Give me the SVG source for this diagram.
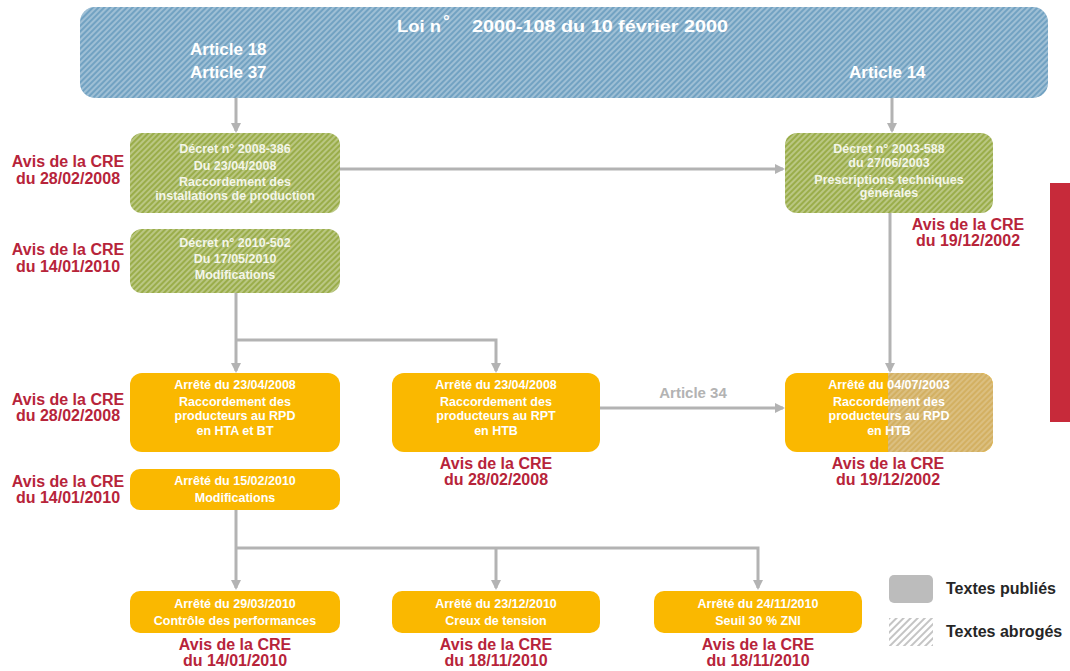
<svg xmlns="http://www.w3.org/2000/svg" width="1070" height="671" viewBox="0 0 1070 671">
<defs>
<pattern id="hw" width="4" height="4" patternUnits="userSpaceOnUse" patternTransform="rotate(45)"><line x1="1" y1="0" x2="1" y2="4" stroke="#ffffff" stroke-opacity="0.45" stroke-width="1.4"/></pattern>
<pattern id="hg" width="5" height="5" patternUnits="userSpaceOnUse" patternTransform="rotate(45)"><line x1="1" y1="0" x2="1" y2="5" stroke="#b5b5b5" stroke-width="1.6"/></pattern>
<marker id="ar" markerWidth="10" markerHeight="10" refX="8" refY="5" orient="auto" markerUnits="userSpaceOnUse"><path d="M0,0 L10,5 L0,10 z" fill="#b3b3b3"/></marker>
</defs>
<style>
.bt{font-family:"Liberation Sans",Arial,sans-serif;font-weight:bold;fill:#fff;font-size:12.5px;text-anchor:middle}
.gt{font-family:"Liberation Sans",Arial,sans-serif;font-weight:bold;fill:#f4f6ea;font-size:12.5px;text-anchor:middle}
.av{font-family:"Liberation Sans",Arial,sans-serif;font-weight:bold;fill:#b7243a;font-size:16px;text-anchor:middle}
.art{font-family:"Liberation Sans",Arial,sans-serif;font-weight:bold;fill:#fff;font-size:17px}
.ob{fill:#fab800}
.gb{fill:#9aad4a}
.cn{fill:none;stroke:#b3b3b3;stroke-width:3}
.lg{font-family:"Liberation Sans",Arial,sans-serif;font-weight:bold;fill:#262626;font-size:16px}
</style>
<rect x="0" y="0" width="1070" height="671" fill="#fff"/>

<g id="loi">
<rect x="80" y="7" width="968" height="91" rx="15" fill="#72a2c2"/>
<rect x="80" y="7" width="968" height="91" rx="15" fill="url(#hw)"/>
<text x="397" y="32" class="art" font-size="19" textLength="44" lengthAdjust="spacingAndGlyphs">Loi n</text>
<text x="443" y="27" class="art" font-size="13">°</text>
<text x="472" y="32" class="art" font-size="19" textLength="256" lengthAdjust="spacingAndGlyphs">2000-108 du 10 février 2000</text>
<text x="190" y="55" class="art">Article 18</text>
<text x="190" y="78" class="art">Article 37</text>
<text x="849" y="78" class="art">Article 14</text>
</g>

<g id="rouge"><rect x="1050" y="183" width="20" height="239" fill="#c72a3a"/></g>

<g id="connecteurs">
<path class="cn" d="M236,98 V131" marker-end="url(#ar)"/>
<path class="cn" d="M892,98 V131" marker-end="url(#ar)"/>
<path class="cn" d="M340,169 H783" marker-end="url(#ar)"/>
<path class="cn" d="M236,293 V371" marker-end="url(#ar)"/>
<path class="cn" d="M236,340 H496 V371" marker-end="url(#ar)"/>
<path class="cn" d="M890,213 V371" marker-end="url(#ar)"/>
<path class="cn" d="M600,408 H783" marker-end="url(#ar)"/>
<path class="cn" d="M236,510 V588" marker-end="url(#ar)"/>
<path class="cn" d="M236,548 H758 V588" marker-end="url(#ar)"/>
<path class="cn" d="M496,548 V588" marker-end="url(#ar)"/>
<text x="693" y="398" font-family="Liberation Sans, Arial, sans-serif" font-weight="bold" font-size="15" fill="#b3b3b3" text-anchor="middle">Article 34</text>
</g>

<g id="decret2008">
<rect x="130" y="133" width="210" height="80" rx="12" class="gb"/>
<rect x="130" y="133" width="210" height="80" rx="12" fill="url(#hw)"/>
<text class="gt" x="235" y="153">Décret n°  2008-386</text>
<text class="gt" x="235" y="170">Du 23/04/2008</text>
<text class="gt" x="235" y="186">Raccordement des</text>
<text class="gt" x="235" y="200">installations de production</text>
<text class="av" x="68" y="167">Avis de la CRE</text>
<text class="av" x="68" y="184">du 28/02/2008</text>
</g>

<g id="decret2010">
<rect x="130" y="229" width="210" height="64" rx="12" class="gb"/>
<rect x="130" y="229" width="210" height="64" rx="12" fill="url(#hw)"/>
<text class="gt" x="235" y="247">Décret n°  2010-502</text>
<text class="gt" x="235" y="263">Du 17/05/2010</text>
<text class="gt" x="235" y="279">Modifications</text>
<text class="av" x="68" y="255">Avis de la CRE</text>
<text class="av" x="68" y="272">du 14/01/2010</text>
</g>

<g id="decret2003">
<rect x="785" y="133" width="208" height="80" rx="12" class="gb"/>
<rect x="785" y="133" width="208" height="80" rx="12" fill="url(#hw)"/>
<text class="gt" x="889" y="153">Décret n°  2003-588</text>
<text class="gt" x="889" y="167">du 27/06/2003</text>
<text class="gt" x="889" y="184">Prescriptions techniques</text>
<text class="gt" x="889" y="197">générales</text>
<text class="av" x="968" y="230">Avis de la CRE</text>
<text class="av" x="968" y="246">du 19/12/2002</text>
</g>

<g id="arrete2008a">
<rect x="130" y="373" width="210" height="79" rx="12" class="ob"/>
<text class="bt" x="235" y="389">Arrêté du 23/04/2008</text>
<text class="bt" x="235" y="406">Raccordement des</text>
<text class="bt" x="235" y="420">producteurs au RPD</text>
<text class="bt" x="235" y="435">en HTA et BT</text>
<text class="av" x="68" y="405">Avis de la CRE</text>
<text class="av" x="68" y="421">du 28/02/2008</text>
</g>

<g id="arrete2008b">
<rect x="392" y="373" width="208" height="79" rx="12" class="ob"/>
<text class="bt" x="496" y="389">Arrêté du 23/04/2008</text>
<text class="bt" x="496" y="406">Raccordement des</text>
<text class="bt" x="496" y="420">producteurs au RPT</text>
<text class="bt" x="496" y="435">en HTB</text>
<text class="av" x="496" y="469">Avis de la CRE</text>
<text class="av" x="496" y="485">du 28/02/2008</text>
</g>

<g id="arrete2003">
<rect x="785" y="373" width="208" height="79" rx="12" class="ob"/>
<path d="M888,373 H981 A12,12 0 0 1 993,385 V440 A12,12 0 0 1 981,452 H888 Z" fill="#d3b062"/>
<path d="M888,373 H981 A12,12 0 0 1 993,385 V440 A12,12 0 0 1 981,452 H888 Z" fill="url(#hw)" opacity="0.6"/>
<text class="bt" x="889" y="389">Arrêté du 04/07/2003</text>
<text class="bt" x="889" y="406">Raccordement des</text>
<text class="bt" x="889" y="420">producteurs au RPD</text>
<text class="bt" x="889" y="435">en HTB</text>
<text class="av" x="888" y="469">Avis de la CRE</text>
<text class="av" x="888" y="485">du 19/12/2002</text>
</g>

<g id="arrete2010mod">
<rect x="130" y="469" width="210" height="41" rx="10" class="ob"/>
<text class="bt" x="235" y="485">Arrêté du 15/02/2010</text>
<text class="bt" x="235" y="502">Modifications</text>
<text class="av" x="68" y="487">Avis de la CRE</text>
<text class="av" x="68" y="503">du 14/01/2010</text>
</g>

<g id="arrete2010perf">
<rect x="130" y="591" width="210" height="42" rx="10" class="ob"/>
<text class="bt" x="235" y="608">Arrêté du 29/03/2010</text>
<text class="bt" x="235" y="625">Contrôle des performances</text>
<text class="av" x="235" y="650">Avis de la CRE</text>
<text class="av" x="235" y="666">du 14/01/2010</text>
</g>

<g id="arrete2010creux">
<rect x="392" y="591" width="208" height="42" rx="10" class="ob"/>
<text class="bt" x="496" y="608">Arrêté du 23/12/2010</text>
<text class="bt" x="496" y="625">Creux de tension</text>
<text class="av" x="496" y="650">Avis de la CRE</text>
<text class="av" x="496" y="666">du 18/11/2010</text>
</g>

<g id="arrete2010zni">
<rect x="654" y="591" width="208" height="42" rx="10" class="ob"/>
<text class="bt" x="758" y="608">Arrêté du 24/11/2010</text>
<text class="bt" x="758" y="625">Seuil 30 % ZNI</text>
<text class="av" x="758" y="650">Avis de la CRE</text>
<text class="av" x="758" y="666">du 18/11/2010</text>
</g>

<g id="legende">
<rect x="889" y="575" width="44" height="28" rx="5" fill="#bcbcbc"/>
<text class="lg" x="946" y="594">Textes publiés</text>
<rect x="889" y="618" width="44" height="28" fill="url(#hg)"/>
<text class="lg" x="946" y="637">Textes abrogés</text>
</g>
</svg>
